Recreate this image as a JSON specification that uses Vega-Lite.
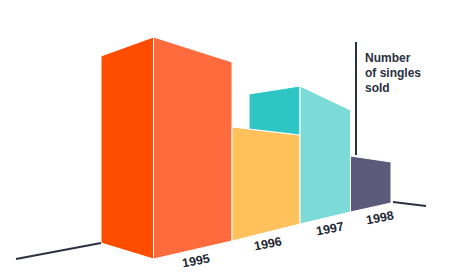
{
  "$schema": "https://vega.github.io/schema/vega-lite/v6.json",
  "width": 450,
  "height": 275,
  "autosize": {"type": "fit", "contains": "padding"},
  "padding": 0,
  "background": "white",
  "config": {"view": {"stroke": null}},
  "datasets": {
    "faces": [
      {"face": "1995 front", "x": 101, "top": 56, "bot": 243},
      {"face": "1995 front", "x": 153.5, "top": 37, "bot": 259},
      {"face": "1995 side", "x": 153.5, "top": 37, "bot": 259},
      {"face": "1995 side", "x": 232, "top": 62, "bot": 241},
      {"face": "1996 side", "x": 232, "top": 127, "bot": 241},
      {"face": "1996 side", "x": 300, "top": 135, "bot": 224},
      {"face": "1997 front", "x": 249, "top": 94, "bot": 129},
      {"face": "1997 front", "x": 300, "top": 86, "bot": 135},
      {"face": "1997 side", "x": 300, "top": 86, "bot": 224},
      {"face": "1997 side", "x": 350.5, "top": 110, "bot": 212},
      {"face": "1998 side", "x": 350.5, "top": 156, "bot": 212},
      {"face": "1998 side", "x": 391, "top": 162, "bot": 203}
    ],
    "lines": [
      {"x": 16, "y": 259, "x2": 101, "y2": 243},
      {"x": 393, "y": 202, "x2": 426, "y2": 206},
      {"x": 356, "y": 42, "x2": 356, "y2": 155}
    ],
    "labels": [
      {"year": "1995", "x": 196, "y": 261},
      {"year": "1996", "x": 268, "y": 244},
      {"year": "1997", "x": 330, "y": 229},
      {"year": "1998", "x": 380, "y": 218}
    ],
    "title": [
      {"text": "Number\nof singles\nsold", "x": 365, "y": 53}
    ]
  },
  "layer": [
    {
      "data": {"name": "faces"},
      "mark": {"type": "area", "interpolate": "linear", "stroke": "white", "strokeWidth": 1, "opacity": 1},
      "encoding": {
        "x": {"field": "x", "type": "quantitative", "scale": {"domain": [0, 450], "nice": false, "zero": false}, "axis": null},
        "y": {"field": "top", "type": "quantitative", "scale": {"domain": [0, 275], "reverse": true, "nice": false, "zero": false}, "axis": null},
        "y2": {"field": "bot"},
        "color": {
          "field": "face", "type": "nominal", "legend": null,
          "scale": {
            "domain": ["1995 front", "1995 side", "1996 side", "1997 front", "1997 side", "1998 side"],
            "range": ["#FF4D00", "#FF6B3D", "#FFC15C", "#2EC5C5", "#7DDBD7", "#5C5A7B"]
          }
        },
        "detail": {"field": "face"}
      }
    },
    {
      "data": {"name": "lines"},
      "mark": {"type": "rule", "color": "#2A3140", "strokeWidth": 2},
      "encoding": {
        "x": {"field": "x", "type": "quantitative"},
        "y": {"field": "y", "type": "quantitative"},
        "x2": {"field": "x2"},
        "y2": {"field": "y2"}
      }
    },
    {
      "data": {"name": "labels"},
      "mark": {"type": "text", "font": "Liberation Sans", "fontWeight": "bold", "fontSize": 12.5, "color": "#1F2633", "angle": 349, "align": "center", "baseline": "middle"},
      "encoding": {
        "x": {"field": "x", "type": "quantitative"},
        "y": {"field": "y", "type": "quantitative"},
        "text": {"field": "year"}
      }
    },
    {
      "data": {"name": "title"},
      "mark": {"type": "text", "font": "Liberation Sans", "fontWeight": "bold", "fontSize": 12, "color": "#2A3140", "align": "left", "baseline": "top", "lineBreak": "\n", "lineHeight": 15},
      "encoding": {
        "x": {"field": "x", "type": "quantitative"},
        "y": {"field": "y", "type": "quantitative"},
        "text": {"field": "text"}
      }
    }
  ]
}
